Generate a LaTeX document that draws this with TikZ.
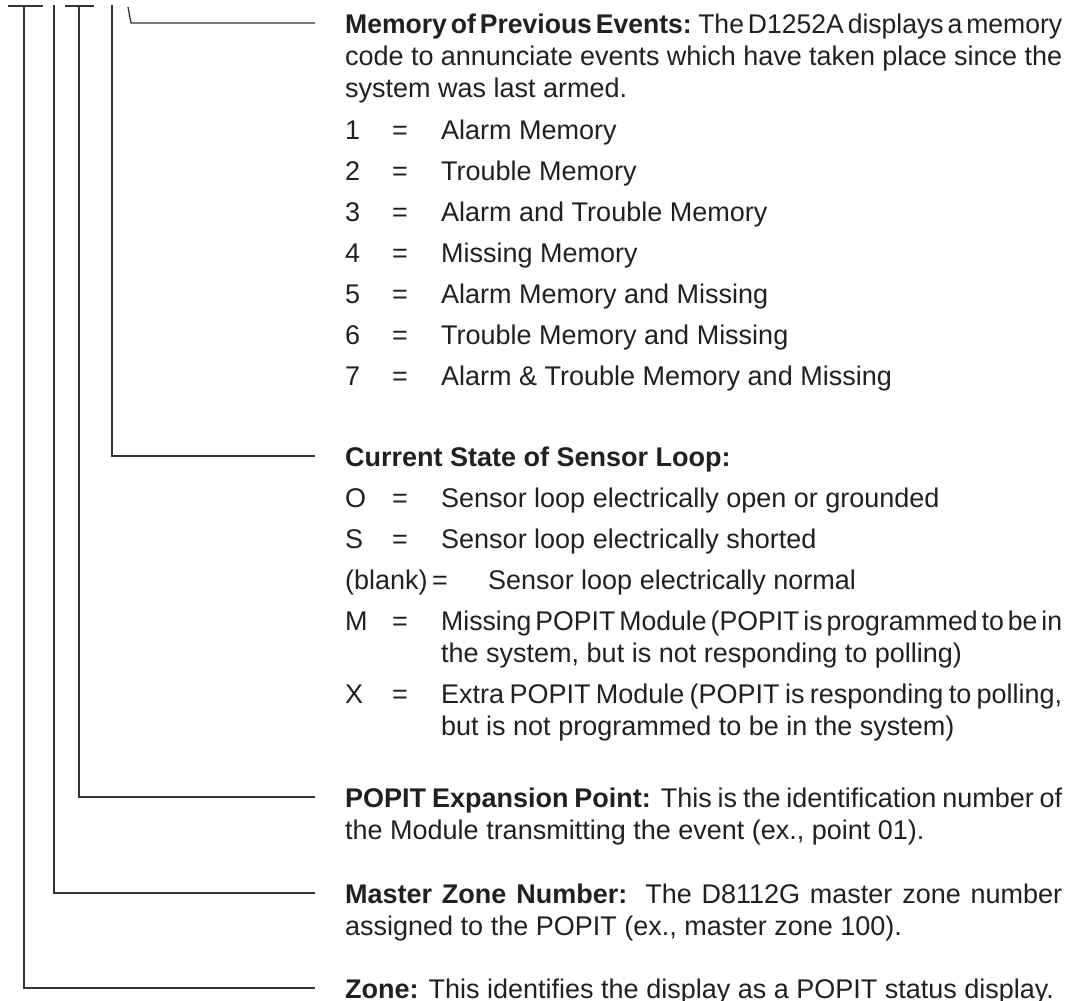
\documentclass[tikz,border=0pt]{standalone}
\usepackage{fontspec}
\setmainfont{Liberation Sans}
\usepackage{xcolor}
\usepackage{graphicx}
\usepackage{tikz}
\definecolor{C231F20}{HTML}{231F20}
\definecolor{C333333}{HTML}{333333}
% one line set to a given width: spaces stretched, or the line squeezed
\newsavebox{\fitbox}
\newcommand{\fitline}[2]{%
  \sbox{\fitbox}{\spaceskip=.15em\relax #2}%
  \ifdim\wd\fitbox>#1\relax
    \resizebox{#1}{\height}{\usebox{\fitbox}}%
  \else
    \makebox[#1][s]{\spaceskip=.15em plus 1em\relax #2}%
  \fi}

\begin{document}
\begin{tikzpicture}[x=1pt,y=-1pt,inner sep=0pt,
  txt/.style={anchor=base west,text=C231F20,font=\fontsize{27}{32}\selectfont},
  lead/.style={draw=C333333,line width=1.3pt}]
\useasboundingbox (0,0) rectangle (1068,1001);

% tops of the leader lines
\coordinate (c0) at (24,7);
\coordinate (c1) at (54,5);
\coordinate (c2) at (79,7);
\coordinate (c3) at (112,5);
\coordinate (c4) at (128,7);
\coordinate (b0l) at (8,6);
\coordinate (b0r) at (43,6);
\coordinate (b1l) at (65,6);
\coordinate (b1r) at (94,6);

% Memory of Previous Events
\node (n0) [txt,at={(345,33)}] {\fitline{717pt}{\textbf{Memory of Previous Events:} The D1252A displays a memory}};
\node (n1) [txt,at={(345,65)}] {\fitline{717pt}{code to annunciate events which have taken place since the}};
\node (n2) [txt,at={(345,97)}] {system was last armed.};

\node (k1) [txt,at={(345,139)}] {1};
\node (q1) [txt,at={(392,139)}] {=};
\node (d1) [txt,at={(441,139)}] {Alarm Memory};
\node (k2) [txt,at={(345,180)}] {2};
\node (q2) [txt,at={(392,180)}] {=};
\node (d2) [txt,at={(441,180)}] {Trouble Memory};
\node (k3) [txt,at={(345,221)}] {3};
\node (q3) [txt,at={(392,221)}] {=};
\node (d3) [txt,at={(441,221)}] {Alarm and Trouble Memory};
\node (k4) [txt,at={(345,262)}] {4};
\node (q4) [txt,at={(392,262)}] {=};
\node (d4) [txt,at={(441,262)}] {Missing Memory};
\node (k5) [txt,at={(345,303)}] {5};
\node (q5) [txt,at={(392,303)}] {=};
\node (d5) [txt,at={(441,303)}] {Alarm Memory and Missing};
\node (k6) [txt,at={(345,344)}] {6};
\node (q6) [txt,at={(392,344)}] {=};
\node (d6) [txt,at={(441,344)}] {Trouble Memory and Missing};
\node (k7) [txt,at={(345,385)}] {7};
\node (q7) [txt,at={(392,385)}] {=};
\node (d7) [txt,at={(441,385)}] {Alarm \& Trouble Memory and Missing};

% Current State of Sensor Loop
\node (n3) [txt,at={(345,466)}] {\textbf{Current State of Sensor Loop:}};
\node (kO) [txt,at={(345,507)}] {O};
\node (qO) [txt,at={(392,507)}] {=};
\node (dO) [txt,at={(441,507)}] {Sensor loop electrically open or grounded};
\node (kS) [txt,at={(345,548)}] {S};
\node (qS) [txt,at={(392,548)}] {=};
\node (dS) [txt,at={(441,548)}] {Sensor loop electrically shorted};
\node (kB) [txt,at={(345,589)}] {(blank)};
\node (qB) [txt,at={(432,589)}] {=};
\node (dB) [txt,at={(488,589)}] {Sensor loop electrically normal};
\node (kM) [txt,at={(345,630)}] {M};
\node (qM) [txt,at={(392,630)}] {=};
\node (dM) [txt,at={(441,630)}] {\fitline{621pt}{Missing POPIT Module (POPIT is programmed to be in}};
\node (dM2) [txt,at={(441,662)}] {the system, but is not responding to polling)};
\node (kX) [txt,at={(345,703)}] {X};
\node (qX) [txt,at={(392,703)}] {=};
\node (dX) [txt,at={(441,703)}] {\fitline{621pt}{Extra POPIT Module (POPIT is responding to polling,}};
\node (dX2) [txt,at={(441,735)}] {but is not programmed to be in the system)};

% POPIT Expansion Point
\node (n4) [txt,at={(345,807)}] {\fitline{717pt}{\textbf{POPIT Expansion Point:} This is the identification number of}};
\node (n5) [txt,at={(345,839)}] {the Module transmitting the event (ex., point 01).};

% Master Zone Number
\node (n6) [txt,at={(345,903)}] {\fitline{717pt}{\textbf{Master Zone Number:} The D8112G master zone number}};
\node (n7) [txt,at={(345,935)}] {assigned to the POPIT (ex., master zone 100).};

% Zone
\node (n8) [txt,at={(345,998)}] {\textbf{Zone:} This identifies the display as a POPIT status display.};

% leader lines
\draw [lead] (b0l) -- (b0r);
\draw [lead] (b1l) -- (b1r);
\draw [lead] (c0) |- ([shift={(-30pt,10pt)}]n8.base west);
\draw [lead] (c1) |- ([shift={(-30pt,10pt)}]n6.base west);
\draw [lead] (c2) |- ([shift={(-30pt,10pt)}]n4.base west);
\draw [lead] (c3) |- ([shift={(-30pt,10pt)}]n3.base west);
\draw [lead] (c4) -- ++(3,16) -| ([shift={(-30pt,10pt)}]n0.base west);
\end{tikzpicture}
\end{document}
